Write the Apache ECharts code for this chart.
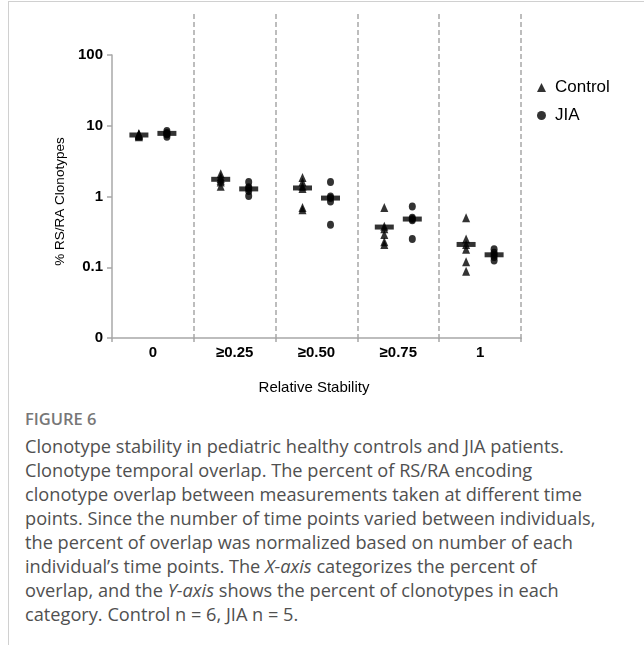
<!DOCTYPE html>
<html>
<head>
<meta charset="utf-8">
<script src="https://cdn.jsdelivr.net/npm/echarts@6/dist/echarts.min.js"></script>
<style>
  html, body { margin: 0; padding: 0; background: #fff; width: 644px; height: 645px; overflow: hidden; }
  #frame { position: absolute; left: 8px; top: 1px; width: 640px; height: 650px; border-left: 1px solid #d0d0d0; border-top: 1px solid #d0d0d0; }
  #chart { position: absolute; left: 0; top: 0; width: 644px; height: 400px; }
  #fig { position: absolute; left: 25px; top: 407px; font-family: "Open Sans", sans-serif; font-size: 16.5px; font-weight: 600; color: #777; }
  #cap { position: absolute; left: 25px; top: 434px; width: 615px; font-family: "Open Sans", sans-serif; font-size: 18.2px; line-height: 24px; color: #505050; white-space: nowrap; }
</style>
</head>
<body>
<div id="frame"></div>
<div id="chart"></div>
<div id="fig">FIGURE 6</div>
<div id="cap">Clonotype stability in pediatric healthy controls and JIA patients.<br>Clonotype temporal overlap. The percent of RS/RA encoding<br>clonotype overlap between measurements taken at different time<br>points. Since the number of time points varied between individuals,<br>the percent of overlap was normalized based on number of each<br>individual’s time points. The <i>X-axis</i> categorizes the percent of<br>overlap, and the <i>Y-axis</i> shows the percent of clonotypes in each<br>category. Control n = 6, JIA n = 5.</div>
<script>
const categories = ['0', '≥0.25', '≥0.50', '≥0.75', '1'];
const yTickValues = [0.01, 0.1, 1, 10, 100];
const yTickLabels = ['0', '0.1', '1', '10', '100'];

// individual values per category
const controlValues = [
  [7.8, 7.6, 7.5, 7.3, 7.2, 7.0],
  [2.1, 1.9, 1.8, 1.7, 1.6, 1.4],
  [1.85, 1.6, 1.4, 1.3, 0.7, 0.65],
  [0.7, 0.38, 0.35, 0.29, 0.23, 0.21],
  [0.5, 0.25, 0.21, 0.18, 0.12, 0.088]
];
const jiaValues = [
  [8.4, 7.9, 7.7, 7.5, 7.0],
  [1.6, 1.35, 1.3, 1.2, 1.02],
  [1.6, 1.0, 0.95, 0.85, 0.4],
  [0.72, 0.5, 0.48, 0.46, 0.25],
  [0.18, 0.16, 0.15, 0.14, 0.125]
];
// group mean bars
const controlMeans = [7.4, 1.75, 1.32, 0.37, 0.21];
const jiaMeans = [7.8, 1.28, 0.95, 0.48, 0.15];

const toPoints = (groups) => groups.flatMap((vals, i) => vals.map(v => [categories[i], v]));
const toMeans = (means) => means.map((v, i) => [categories[i], v]);

const gray = '#a8a8a8';
const font = "'Liberation Sans', Arial, Helvetica, sans-serif";

const chart = echarts.init(document.getElementById('chart'), null, { renderer: 'canvas' });
chart.setOption({
  animation: false,
  grid: [
    { left: 112, right: 123, top: 55, bottom: 60 },
    { left: 112, right: 123, top: 14, bottom: 60 }
  ],
  legend: {
    data: ['Control', 'JIA'],
    orient: 'vertical',
    left: 532,
    top: 74,
    itemWidth: 9,
    itemHeight: 9,
    itemGap: 11,
    textStyle: { fontFamily: font, fontSize: 17, color: '#000', padding: [0, 0, 0, 4] }
  },
  xAxis: [
    {
      type: 'category', gridIndex: 0, data: categories, boundaryGap: true,
      axisLine: { lineStyle: { color: gray, width: 1.5 } },
      axisTick: { show: true, length: 4, interval: 0, lineStyle: { color: gray, width: 1.5 } },
      axisLabel: { fontFamily: font, fontSize: 15, fontWeight: 'bold', color: '#000', margin: 7 },
      splitLine: { show: false },
      name: 'Relative Stability', nameLocation: 'middle', nameGap: 42,
      nameTextStyle: { fontFamily: font, fontSize: 15, color: '#000', padding: [0, 5, 0, 0] }
    },
    {
      type: 'category', gridIndex: 1, data: categories, boundaryGap: true,
      axisLine: { show: false }, axisTick: { show: false }, axisLabel: { show: false },
      splitLine: { show: true, showMinLine: false, showMaxLine: true, interval: 0,
        lineStyle: { color: gray, width: 1.5, type: [5, 3] } }
    }
  ],
  yAxis: [
    {
      type: 'log', gridIndex: 0, logBase: 10, min: yTickValues[0], max: yTickValues[yTickValues.length - 1],
      axisLine: { show: true, lineStyle: { color: gray, width: 1.5 } },
      axisTick: { show: true, length: 5, lineStyle: { color: gray, width: 1.5 } },
      splitLine: { show: false },
      axisLabel: {
        fontFamily: font, fontSize: 15, fontWeight: 'bold', color: '#000', margin: 9,
        formatter: (v) => {
          let best = 0;
          yTickValues.forEach((t, i) => { if (Math.abs(Math.log10(t) - Math.log10(v)) < Math.abs(Math.log10(yTickValues[best]) - Math.log10(v))) best = i; });
          return yTickLabels[best];
        }
      },
      name: '% RS/RA Clonotypes', nameLocation: 'middle', nameRotate: 90, nameGap: 43,
      nameTextStyle: { fontFamily: font, fontSize: 13.5, color: '#000', padding: [0, 10, 0, 0] }
    },
    { type: 'value', gridIndex: 1, show: false, min: 0, max: 1 }
  ],
  series: [
    {
      name: 'Control', type: 'scatter', xAxisIndex: 0, yAxisIndex: 0,
      symbol: 'triangle', symbolSize: [8, 9], symbolOffset: [-14, 0],
      itemStyle: { color: '#000' }, data: toPoints(controlValues)
    },
    {
      name: 'JIA', type: 'scatter', xAxisIndex: 0, yAxisIndex: 0,
      symbol: 'circle', symbolSize: [7, 8], symbolOffset: [14, 0],
      itemStyle: { color: '#000' }, data: toPoints(jiaValues)
    },
    {
      name: 'Control mean', type: 'scatter', xAxisIndex: 0, yAxisIndex: 0,
      symbol: 'rect', symbolSize: [19, 5], symbolOffset: [-14, 0],
      itemStyle: { color: '#000' }, data: toMeans(controlMeans)
    },
    {
      name: 'JIA mean', type: 'scatter', xAxisIndex: 0, yAxisIndex: 0,
      symbol: 'rect', symbolSize: [19, 5], symbolOffset: [14, 0],
      itemStyle: { color: '#000' }, data: toMeans(jiaMeans)
    }
  ]
});
</script>
</body>
</html>
